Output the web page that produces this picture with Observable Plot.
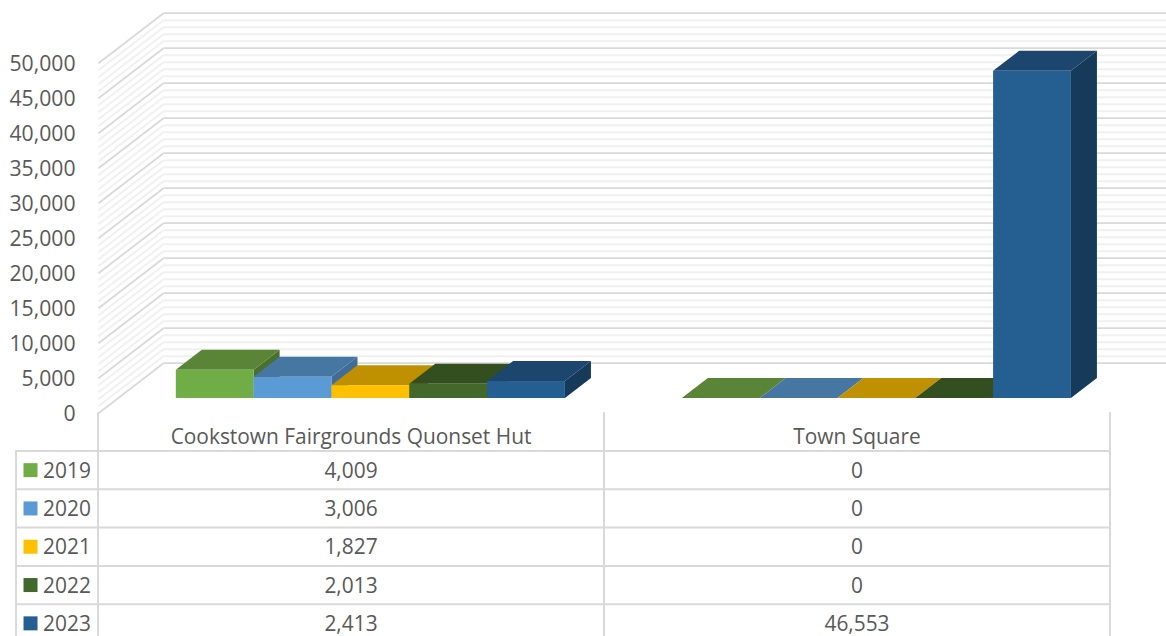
<!DOCTYPE html>
<html>
<head>
<meta charset="utf-8">
<script src="https://cdn.jsdelivr.net/npm/d3@7"></script>
<script src="https://cdn.jsdelivr.net/npm/@observablehq/plot@0.6"></script>
<style>
html,body{margin:0;padding:0;background:#fff;overflow:hidden}
svg{display:block;background:transparent!important}
#table{margin-top:-38px}
</style>
</head>
<body>
<div id="chart"></div>
<div id="table"></div>
<script>
const categories = ["Cookstown Fairgrounds Quonset Hut", "Town Square"];
const years = ["2019", "2020", "2021", "2022", "2023"];
const cookstownValues = [4009, 3006, 1827, 2013, 2413];
const townSquareValues = [0, 0, 0, 0, 46553];
const frontColors = ["#70AD47", "#5B9BD5", "#FFC000", "#43682B", "#255E91"];
const topColors = ["#5A8537", "#4677A3", "#BF9000", "#334F20", "#1C466D"];
const sideColors = ["#4A7030", "#3F6D98", "#A67D00", "#2B441B", "#163A5A"];
const axisMax = 50000;
const majorStep = 5000;
const minorStep = 1000;

// floor geometry, in scale units: x in table columns, y in axis values
const wallDx = 0.1285, wallDy = 7143;
const barWidth = 0.1538;
const depthFront = 0.294, depthBack = 0.694;
const nearScale = 1.004; // bars stand nearer the viewer than the back wall
const xMax = 2.1107;
const ink = "#595959", gridMajor = "#D9D9D9", gridMinor = "#F0F0F0";
const font = "'Open Sans', sans-serif";

const bars = categories.flatMap((c, ci) => years.map((yr, i) => {
  const v = (ci === 0 ? cookstownValues : townSquareValues)[i];
  const left = ci + (i + 1) * barWidth;
  return {
    i, v,
    x1: left,
    x2: left + barWidth,
    y0: depthFront * wallDy,
    y1: depthFront * wallDy + v * nearScale,
    dx: (depthBack - depthFront) * wallDx,
    dy: (depthBack - depthFront) * wallDy,
    id: ci + "-" + i
  };
}));
const topPts = bars.flatMap(b => [
  {id: b.id, i: b.i, y: b.y1, x1: b.x1, x2: b.x2},
  {id: b.id, i: b.i, y: b.y1 + b.dy, x1: b.x1 + b.dx, x2: b.x2 + b.dx}
]);
const sidePts = bars.filter(b => b.v > 0).flatMap(b => [
  {id: b.id, i: b.i, x: b.x2, y1: b.y0, y2: b.y1},
  {id: b.id, i: b.i, x: b.x2 + b.dx, y1: b.y0 + b.dy, y2: b.y1 + b.dy}
]);

const minors = d3.range(0, axisMax + 1, minorStep).filter(v => v % majorStep !== 0);
const majors = d3.range(0, axisMax + 1, majorStep);
const wallLines = (vals, stroke, strokeWidth) => [
  Plot.link(vals, {x1: 0, x2: wallDx, y1: d => d, y2: d => d + wallDy, stroke, strokeWidth}),
  Plot.link(vals, {x1: wallDx, x2: xMax, y1: d => d + wallDy, y2: d => d + wallDy, stroke, strokeWidth})
];

const chart = Plot.plot({
  width: 1166, height: 450,
  marginLeft: 98, marginRight: 0, marginTop: 0, marginBottom: 0,
  style: {fontFamily: font, fontSize: "21px", background: "transparent"},
  x: {domain: [0, xMax], axis: null},
  y: {domain: [0, axisMax], range: [412.7, 62.7]},
  color: {type: "identity"},
  marks: [
    ...wallLines(minors, gridMinor, 2),
    ...wallLines(majors, gridMajor, 1.8),
    Plot.axisY({ticks: majors, tickFormat: d3.format(","), tickSize: 0, tickPadding: 23, label: null, fill: ink, fontSize: 21.2, dy: 1}),
    Plot.areaY(sidePts, {x: "x", y1: "y1", y2: "y2", z: "id", fill: d => sideColors[d.i]}),
    Plot.areaX(topPts, {y: "y", x1: "x1", x2: "x2", z: "id", fill: d => topColors[d.i]}),
    Plot.rect(bars.filter(b => b.v > 0), {x1: "x1", x2: "x2", y1: "y0", y2: "y1", fill: d => frontColors[d.i]})
  ]
});
document.getElementById("chart").append(chart);

// data table under the chart: x counts columns, y counts rows
const rowCount = years.length + 1;
const cells = [
  ...categories.map((c, ci) => ({col: ci + 1.5, row: 0.62, text: c})),
  ...years.flatMap((yr, i) => [
    {col: 1.5, row: i + 1.5, text: d3.format(",")(cookstownValues[i])},
    {col: 2.5, row: i + 1.5, text: d3.format(",")(townSquareValues[i])}
  ])
];
const yearRows = years.map((yr, i) => ({yr, i, row: i + 1.5}));
const table = Plot.plot({
  width: 1166, height: 224,
  margin: 0,
  style: {fontFamily: font, fontSize: "21px", background: "transparent"},
  x: {type: "linear", domain: [0, 1, 2, 3], range: [15.5, 97.5, 603.5, 1109.5], axis: null},
  y: {type: "linear", domain: [0, rowCount], range: [0.2, 230], axis: null},
  color: {type: "identity"},
  marks: [
    Plot.ruleY(d3.range(1, rowCount), {x1: 0, x2: 3, stroke: gridMajor, strokeWidth: 2}),
    Plot.ruleX([1, 2, 3], {y1: 0, y2: rowCount, stroke: gridMajor, strokeWidth: 2}),
    Plot.ruleX([0], {y1: 1, y2: rowCount, stroke: gridMajor, strokeWidth: 2}),
    Plot.dot(yearRows, {x: () => 0.177, y: "row", symbol: "square", r: 7.9, fill: d => frontColors[d.i], stroke: "none"}),
    Plot.text(yearRows, {x: () => 0.33, y: "row", text: "yr", textAnchor: "start", fill: ink, fontSize: 20.9, dy: 1}),
    Plot.text(cells, {x: "col", y: "row", text: "text", fill: ink, fontSize: 20.9, dy: 1})
  ]
});
document.getElementById("table").append(table);
</script>
</body>
</html>
